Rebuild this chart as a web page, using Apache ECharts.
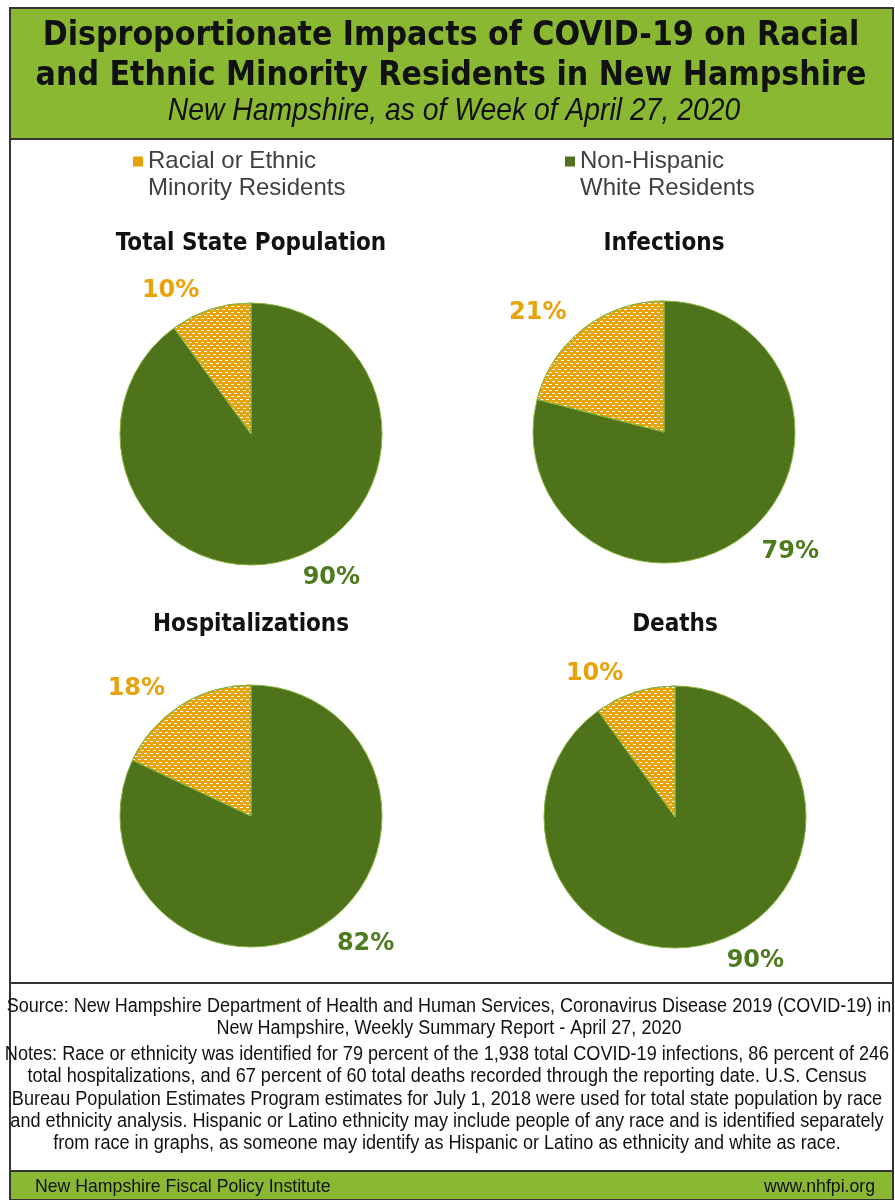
<!DOCTYPE html>
<html>
<head>
<meta charset="utf-8">
<script src="https://cdn.jsdelivr.net/npm/echarts@6/dist/echarts.min.js"></script>
<style>
  html, body { margin: 0; padding: 0; background: #fff; }
  #main { width: 895px; height: 1200px; }
</style>
</head>
<body>
<div id="main"></div>
<script>
var chart = echarts.init(document.getElementById('main'));

// data
var groupNames = ['Non-Hispanic\nWhite Residents', 'Racial or Ethnic\nMinority Residents'];
var panelTitles = ['Total State Population', 'Infections', 'Hospitalizations', 'Deaths'];
var whiteShare = [90, 79, 82, 90];
var minorityShare = [10, 21, 18, 10];

var panelCenters = [[251, 434], [664, 432], [251, 816], [675, 817]];
var titleTops = [227, 227, 608, 608];

var GREEN = '#4e731a';
var ORANGE = '#e8a20a';
var HEAD_GREEN = '#8ab833';
var COND_FONT = '"DejaVu Sans Condensed", "DejaVu Sans", sans-serif';
var BOLD_FONT = '"DejaVu Sans", sans-serif';
var TEXT_FONT = '"Liberation Sans", Arial, sans-serif';

var orangeDecal = {
    symbol: 'rect',
    symbolSize: 1,
    color: 'rgba(255,255,255,0.95)',
    dashArrayX: [[3, 3], [0, 3, 3, 0]],
    dashArrayY: [1, 2],
    rotation: 0
};

var series = panelTitles.map(function (t, i) {
    return {
        type: 'pie',
        name: t,
        center: panelCenters[i],
        radius: 131,
        startAngle: 90,
        clockwise: true,
        avoidLabelOverlap: false,
        itemStyle: {
            borderColor: '#86b13a',
            borderWidth: 1
        },
        label: {
            show: true,
            position: 'outside',
            formatter: function (p) { return p.value + '%'; },
            fontFamily: BOLD_FONT,
            fontWeight: 'bold',
            fontSize: 24
        },
        labelLine: { show: false, length: 20, length2: 0 },
        emphasis: { disabled: true },
        data: [
            { name: groupNames[0], value: whiteShare[i], itemStyle: { color: GREEN }, label: { color: '#4f7b20' } },
            { name: groupNames[1], value: minorityShare[i], itemStyle: { color: ORANGE, decal: orangeDecal }, label: { color: ORANGE } }
        ]
    };
});

var titles = panelTitles.map(function (t, i) {
    return {
        text: t,
        left: panelCenters[i][0] - 5,
        top: titleTops[i],
        textAlign: 'center',
        textStyle: { fontFamily: COND_FONT, fontWeight: 'bold', fontSize: 24, color: '#111' }
    };
});

function legendFor(name, x) {
    return {
        left: x,
        top: 143,
        orient: 'vertical',
        selectedMode: false,
        data: [{ name: name, itemStyle: { decal: 'none' } }],
        icon: 'path://M0,0h10v10h-10zM0,37h0.001',
        itemWidth: 10,
        itemHeight: 37,
        itemGap: 0,
        itemStyle: { borderWidth: 0 },
        textStyle: { fontFamily: TEXT_FONT, fontSize: 24, lineHeight: 27, color: '#404040' }
    };
}

var sourceText = 'Source: New Hampshire Department of Health and Human Services, Coronavirus Disease 2019 (COVID-19) in\n' +
    'New Hampshire, Weekly Summary Report - April 27, 2020';
var notesText = 'Notes: Race or ethnicity was identified for 79 percent of the 1,938 total COVID-19 infections, 86 percent of 246\n' +
    'total hospitalizations, and 67 percent of 60 total deaths recorded through the reporting date. U.S. Census\n' +
    'Bureau Population Estimates Program estimates for July 1, 2018 were used for total state population by race\n' +
    'and ethnicity analysis. Hispanic or Latino ethnicity may include people of any race and is identified separately\n' +
    'from race in graphs, as someone may identify as Hispanic or Latino as ethnicity and white as race.';

chart.setOption({
    backgroundColor: '#fff',
    title: titles,
    legend: [legendFor(groupNames[1], 128), legendFor(groupNames[0], 560)],
    graphic: [
        // outer frame
        { type: 'rect', shape: { x: 10, y: 8, width: 883, height: 1192 }, style: { fill: 'none', stroke: '#333', lineWidth: 2 }, z: 10 },
        // header band
        { type: 'rect', shape: { x: 10, y: 8, width: 883, height: 131 }, style: { fill: HEAD_GREEN, stroke: '#333', lineWidth: 2 }, z: 1 },
        { type: 'text', x: 451, y: 36, style: { text: 'Disproportionate Impacts of COVID-19 on Racial', fill: '#111', font: 'bold 33.5px ' + COND_FONT, textAlign: 'center', textVerticalAlign: 'middle' }, z: 11 },
        { type: 'text', x: 451, y: 76, style: { text: 'and Ethnic Minority Residents in New Hampshire', fill: '#111', font: 'bold 33.5px ' + COND_FONT, textAlign: 'center', textVerticalAlign: 'middle' }, z: 11 },
        { type: 'text', x: 454, y: 111, scaleX: 0.885, style: { text: 'New Hampshire, as of Week of April 27, 2020', fill: '#111', font: 'italic 32px ' + TEXT_FONT, textAlign: 'center', textVerticalAlign: 'middle' }, z: 11 },
        // separator above notes
        { type: 'line', shape: { x1: 10, y1: 983, x2: 893, y2: 983 }, style: { stroke: '#333', lineWidth: 2 }, z: 10 },
        { type: 'text', x: 449, y: 995, scaleX: 0.9, style: { text: sourceText, fill: '#111', font: '20px ' + TEXT_FONT, lineHeight: 22.5, textAlign: 'center' }, z: 11 },
        { type: 'text', x: 447, y: 1043, scaleX: 0.905, style: { text: notesText, fill: '#111', font: '20px ' + TEXT_FONT, lineHeight: 22.4, textAlign: 'center' }, z: 11 },
        // footer band
        { type: 'rect', shape: { x: 10, y: 1171, width: 883, height: 30 }, style: { fill: HEAD_GREEN, stroke: '#333', lineWidth: 2 }, z: 1 },
        { type: 'text', x: 35, y: 1187, scaleX: 0.93, style: { text: 'New Hampshire Fiscal Policy Institute', fill: '#111', font: '19px ' + TEXT_FONT, textVerticalAlign: 'middle' }, z: 11 },
        { type: 'text', x: 875, y: 1187, scaleX: 0.93, style: { text: 'www.nhfpi.org', fill: '#111', font: '19px ' + TEXT_FONT, textAlign: 'right', textVerticalAlign: 'middle' }, z: 11 }
    ],
    series: series
});
</script>
</body>
</html>
